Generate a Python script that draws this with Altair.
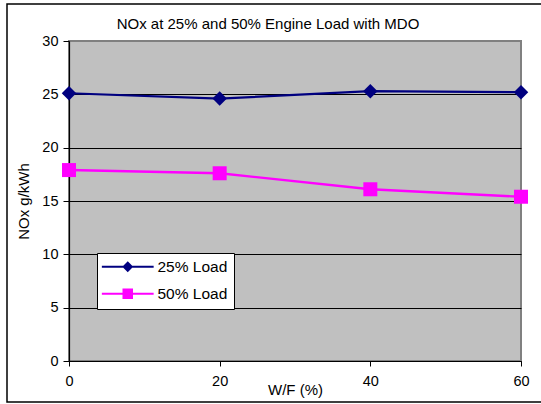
import altair as alt
import pandas as pd

# ---- data ----
wf = [0, 20, 40, 60]
load25 = [25.1, 24.6, 25.3, 25.2]
load50 = [17.9, 17.6, 16.1, 15.4]
series = ["25% Load", "50% Load"]
colors = ["#000080", "#FF00FF"]
y_ticks = [0, 5, 10, 15, 20, 25, 30]
x_ticks = [0, 20, 40, 60]
title_text = "NOx at 25% and 50% Engine Load with MDO"

df = pd.DataFrame({
    "W/F": wf * 2,
    "NOx": load25 + load50,
    "Series": [series[0]] * len(wf) + [series[1]] * len(wf),
})

W, H = 452, 320
FONT = "Liberation Sans"

x_enc = alt.X(
    "W/F:Q",
    scale=alt.Scale(domain=[0, 60], nice=False, zero=False),
    axis=alt.Axis(values=x_ticks, title="W/F (%)", grid=False, format="d",
                  tickSize=5, labelPadding=8, labelFlush=False, titleY=33,
                  titleBaseline="alphabetic"),
)
y_enc = alt.Y(
    "NOx:Q",
    scale=alt.Scale(domain=[0, 30], nice=False),
    axis=alt.Axis(values=y_ticks, title="NOx g/kWh", grid=True,
                  gridColor={"condition": {"test": "datum.value >= 30", "value": "#808080"},
                             "value": "black"},
                  tickSize=6, labelPadding=5, titleX=-46, titleBaseline="middle"),
)

# legend symbols: a short line with the marker on it (unit box scaled by sqrt(size)/2)
leg_paths = [
    "M-3.7,-0.15H3.7V0.15H-3.7ZM0,-0.78L0.78,0L0,0.78L-0.78,0Z",
    "M-3.7,-0.15H3.7V0.15H-3.7ZM-0.75,-0.75H0.75V0.75H-0.75Z",
]

line_layers = []
point_layers = []
shapes = ["diamond", "square"]
sizes = [210, 196]
widths = [2.2, 2.4]
for s, c, sh, sz, lw in zip(series, colors, shapes, sizes, widths):
    base = alt.Chart(df).transform_filter(alt.datum.Series == s)
    line_layers.append(base.mark_line(color=c, strokeWidth=lw).encode(x=x_enc, y=y_enc))
    point_layers.append(
        base.mark_point(shape=sh, filled=True, size=sz, color=c, opacity=1).encode(
            x="W/F:Q", y="NOx:Q"
        )
    )

legend = alt.Legend(
    title=None, orient="none", legendX=28, legendY=212,
    fillColor="white", strokeColor="black", padding=6,
    symbolSize=196, symbolOffset=17, labelOffset=22,
    labelFontSize=15.5, labelFont=FONT, labelColor="black",
    rowPadding=10, symbolStrokeWidth=0, symbolOpacity=1,
)
legend_layer = alt.Chart(df).transform_filter("false").mark_point(
    filled=True, opacity=1, size=196
).encode(
    x="W/F:Q", y="NOx:Q",
    color=alt.Color("Series:N", scale=alt.Scale(domain=series, range=colors), legend=legend),
    shape=alt.Shape("Series:N", scale=alt.Scale(domain=series, range=leg_paths), legend=legend),
)

deco = pd.DataFrame({"t": [title_text]})
title = alt.Chart(deco).mark_text(
    font=FONT, fontSize=15, align="center", baseline="alphabetic", color="black"
).encode(text="t:N", x=alt.value(199), y=alt.value(-12))

border = alt.Chart(deco).mark_rect(
    fill="transparent", stroke="black", strokeWidth=1.5
).encode(x=alt.value(-62), y=alt.value(-37), x2=alt.value(478), y2=alt.value(361))

chart = alt.layer(border, title, *line_layers, *point_layers, legend_layer).properties(
    width=W, height=H,
    autosize=alt.AutoSizeParams(type="none"),
    padding={"left": 69, "top": 41, "right": 20, "bottom": 43},
    background="white",
).configure_view(
    fill="#C0C0C0", stroke="#808080", strokeWidth=2
).configure_axis(
    labelFont=FONT, titleFont=FONT, labelFontSize=14.5, titleFontSize=15,
    labelColor="black", titleColor="black", titleFontWeight="normal",
    domainColor="black", tickColor="black", domainWidth=1.2,
    gridWidth=1,
)

chart.save("out.html", embed_options={"renderer": "svg", "actions": False})
